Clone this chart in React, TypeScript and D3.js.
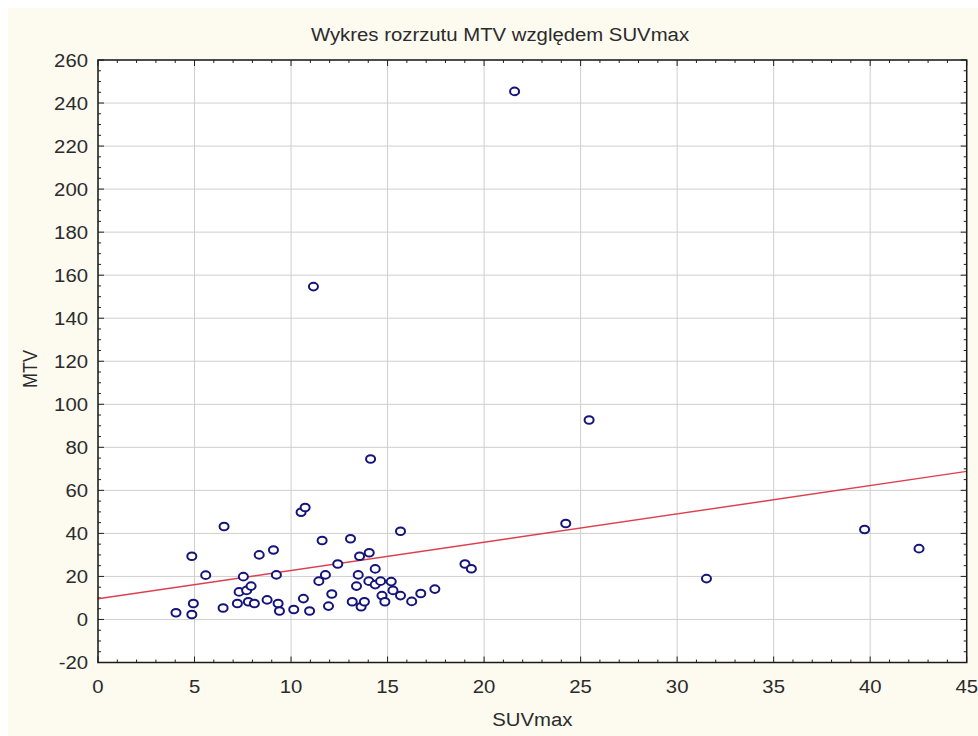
import React from "react";
import * as d3 from "d3";

// SUVmax / MTV observations
const suvmax = [
  4.04, 4.86, 4.86, 4.94, 5.58, 6.53, 6.48, 7.22, 7.31, 7.53,
  7.7, 7.93, 7.79, 8.1, 8.35, 8.76, 9.09, 9.24, 9.33, 9.4,
  10.14, 10.52, 10.73, 10.64, 10.96, 11.61, 11.44, 11.78, 12.11, 11.94,
  12.42, 13.08, 13.17, 13.39, 13.48, 13.55, 13.63, 13.8, 14.05, 14.03,
  14.36, 14.36, 14.64, 14.71, 14.86, 14.12, 15.67, 15.19, 15.28, 15.67,
  16.25, 16.72, 17.45, 19.01, 19.34, 25.44, 24.23, 31.52, 39.71, 42.53,
  21.58, 11.16,
];
const mtv = [
  3.1, 29.4, 2.3, 7.4, 20.6, 43.2, 5.3, 7.4, 12.8, 19.9,
  13.5, 15.5, 8.2, 7.4, 30.0, 9.1, 32.3, 20.7, 7.4, 3.9,
  4.6, 49.8, 52.0, 9.7, 3.9, 36.7, 17.8, 20.7, 11.8, 6.2,
  25.8, 37.5, 8.2, 15.5, 20.7, 29.4, 5.9, 8.2, 31.0, 17.8,
  23.5, 16.2, 17.8, 11.1, 8.2, 74.6, 41.0, 17.6, 13.5, 11.1,
  8.4, 12.1, 14.1, 25.8, 23.6, 92.7, 44.6, 19.0, 41.8, 32.9,
  245.4, 154.7,
];

// Fitted line MTV = a + b * SUVmax
const fitIntercept = 9.6;
const fitSlope = 1.316;

const xTicks = [0, 5, 10, 15, 20, 25, 30, 35, 40, 45];
const yTicks = [-20, 0, 20, 40, 60, 80, 100, 120, 140, 160, 180, 200, 220, 240, 260];
const xMinor = d3.range(0, 45.001, 1);
const yMinor = d3.range(-20, 260.001, 5);

const W = 970;
const H = 728;
const left = 90;
const right = 958.7;
const top = 52;
const bottom = 654.5;
const SX = 1.13; // horizontal glyph stretch
const FONT = "'Liberation Sans', Arial, sans-serif";
const TXT = "#2b2b2b";

export default function App() {
  const x = d3.scaleLinear().domain([0, 45]).range([left, right]);
  const y = d3.scaleLinear().domain([-20, 260]).range([bottom, top]);
  const pts = suvmax.map((v, i) => ({ sx: v, m: mtv[i] }));
  const line = d3
    .line<number>()
    .x((d) => x(d))
    .y((d) => y(fitIntercept + fitSlope * d));

  const label = (
    tx: number,
    ty: number,
    text: string,
    anchor: "start" | "middle" | "end",
    key?: string | number
  ) => (
    <text
      key={key}
      transform={`translate(${tx},${ty}) scale(${SX},1)`}
      textAnchor={anchor}
      fontFamily={FONT}
      fontSize={18}
      fill={TXT}
    >
      {text}
    </text>
  );

  return (
    <svg
      width={W}
      height={H}
      style={{ display: "block", position: "fixed", left: 8, top: 8 }}
    >
      <rect x={0} y={0} width={W} height={H} fill="#fdfaf0" />
      <rect x={left} y={top} width={right - left} height={bottom - top} fill="#ffffff" />

      {/* grid */}
      {xTicks.map((t) => (
        <line key={"gx" + t} x1={x(t)} x2={x(t)} y1={top} y2={bottom} stroke="#cfcfcf" strokeWidth={1} />
      ))}
      {yTicks.map((t) => (
        <line key={"gy" + t} x1={left} x2={right} y1={y(t)} y2={y(t)} stroke="#cfcfcf" strokeWidth={1} />
      ))}

      {/* inward ticks on all four sides */}
      <g stroke="#222" strokeWidth={1}>
        {xMinor.map((t) => {
          const len = t % 5 === 0 ? 6 : 3;
          return (
            <g key={"tx" + t}>
              <line x1={x(t)} x2={x(t)} y1={bottom} y2={bottom - len} />
              <line x1={x(t)} x2={x(t)} y1={top} y2={top + len} />
            </g>
          );
        })}
        {yMinor.map((t) => {
          const len = t % 20 === 0 ? 6 : 3;
          return (
            <g key={"ty" + t}>
              <line x1={left} x2={left + len} y1={y(t)} y2={y(t)} />
              <line x1={right} x2={right - len} y1={y(t)} y2={y(t)} />
            </g>
          );
        })}
      </g>

      {/* regression line */}
      <path d={line([0, 45]) || ""} fill="none" stroke="#dc4050" strokeWidth={1.4} />

      {/* points */}
      {pts.map((p, i) => (
        <ellipse
          key={i}
          cx={x(p.sx)}
          cy={y(p.m)}
          rx={4.0 * SX}
          ry={3.8}
          fill="#ffffff"
          stroke="#14147a"
          strokeWidth={2}
        />
      ))}

      {/* frame */}
      <rect x={left} y={top} width={right - left} height={bottom - top} fill="none" stroke="#1a1a1a" strokeWidth={1.5} />

      {/* tick labels */}
      {yTicks.map((t) => label(left - 10, y(t) + 6.5, String(t), "end", "ly" + t))}
      {xTicks.map((t) => label(x(t), bottom + 30, String(t), "middle", "lx" + t))}

      {/* titles */}
      {label(492, 33, "Wykres rozrzutu MTV względem SUVmax", "middle", "title")}
      {label((left + right) / 2, 718, "SUVmax", "middle", "xl")}
      <text
        transform={`translate(29,${361}) rotate(-90) scale(1,${SX})`}
        textAnchor="middle"
        fontFamily={FONT}
        fontSize={18}
        fill={TXT}
      >
        MTV
      </text>
    </svg>
  );
}
